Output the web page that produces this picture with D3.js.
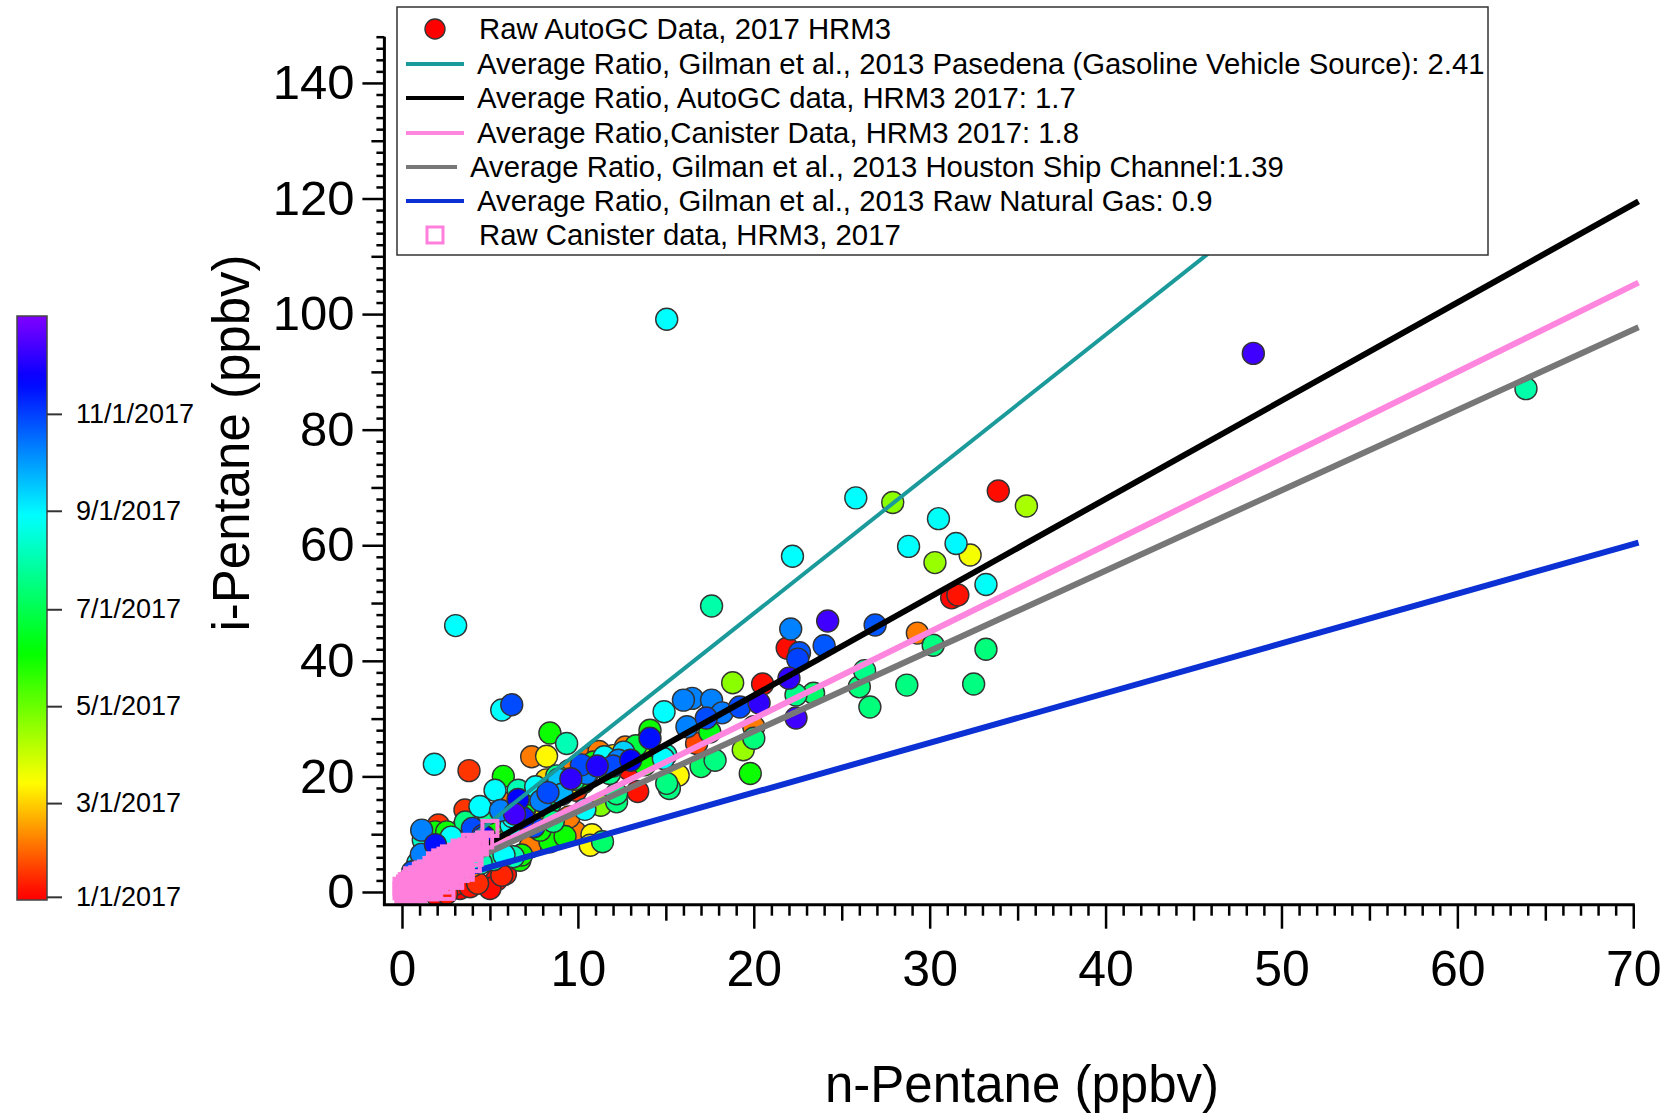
<!DOCTYPE html>
<html>
<head>
<meta charset="utf-8">
<script src="https://cdn.jsdelivr.net/npm/d3@7"></script>
<style>
body { margin: 0; background: #fff; }
text { font-family: "Liberation Sans", Arial, sans-serif; fill: #000; }
</style>
</head>
<body>
<script>
// AutoGC points: n-pentane, i-pentane (ppbv) and day of 2017 (0 = Jan 1)
var gcX = [15.05, 25.8, 27.9, 33.9, 35.5, 30.5, 28.8, 31.5, 32.3, 30.3, 22.2, 33.2, 31.25, 31.6, 17.6, 26.9, 24.2, 22.1, 24.0, 21.9,
    22.6, 22.5, 29.3, 30.2, 33.2, 28.7, 32.5, 26.0, 26.6, 26.3, 22.4, 22.0, 20.5, 20.3, 18.8, 16.5, 17.6, 14.9, 23.4, 22.4,
    14.1, 14.1, 12.7, 17.5, 19.4, 17.3, 16.2, 48.4, 63.9, 3.05, 6.24, 5.67, 1.84, 3.81, 8.41, 9.36, 7.37, 8.22, 5.76, 5.29,
    6.61, 3.58, 4.43, 1.12, 2.07, 1.88, 2.54, 1.21, 16.0, 20.0, 20.0, 16.75, 19.8, 17.0, 17.8, 15.0, 15.7, 15.2, 15.05, 12.2,
    13.4, 11.2, 10.6, 12.3, 12.0, 14.86, 13.5, 12.9, 13.8, 11.8, 10.5, 9.9, 7.5, 6.8, 8.9, 8.41, 9.27, 9.84, 10.8, 11.4,
    10.7, 7.85, 6.7, 7.28, 6.33, 6.8, 0.6, 0.9, 1.1, 1.3, 1.9, 2.3, 2.8, 3.2, 3.6, 4.0, 4.9, 5.6, 5.2, 6.0,
    6.6, 7.2, 7.6, 8.2, 8.8, 9.5, 10.2, 10.9, 11.5, 9.6, 8.6, 7.9, 7.0, 6.3, 5.5, 4.7, 3.9, 3.3, 2.7, 2.1,
    1.5, 1.2, 2.0, 2.7, 3.3, 4.0, 4.5, 5.2, 5.8, 7.5, 8.6, 9.5, 10.4, 11.3, 12.2, 5.38, 5.0, 3.3, 3.87, 2.54,
    1.97, 5.67, 5.88, 4.3, 3.0, 1.5, 0.8, 18.2, 19.2, 13.0,
    0.4, 0.8, 1.0, 1.6, 2.2, 2.5, 3.0, 3.5, 4.2, 4.6, 5.0, 5.4, 6.0, 6.4, 7.0, 7.7, 8.3, 9.0, 9.8, 10.6,
    11.1, 12.0, 12.6, 13.3, 14.0, 4.1, 4.8, 5.5, 6.2, 6.9, 7.6, 8.4, 9.1, 9.9, 10.3, 3.6, 2.9, 2.4, 1.7, 0.7];
var gcY = [99.1, 68.2, 67.4, 69.4, 66.8, 64.6, 59.8, 60.3, 58.3, 57.0, 58.1, 53.2, 50.9, 51.4, 49.5, 46.2, 46.9, 45.5, 42.6, 42.2,
    41.4, 40.3, 44.8, 42.7, 42.0, 35.8, 36.0, 35.5, 32.0, 38.3, 30.1, 37.0, 36.0, 32.7, 36.2, 33.5, 33.2, 31.2, 34.4, 34.1,
    26.6, 28.0, 25.1, 27.7, 24.6, 30.1, 28.6, 93.2, 87.1, 46.1, 32.4, 31.5, 22.1, 21.0, 27.5, 25.7, 23.4, 23.5, 20.0, 17.6,
    17.6, 14.2, 14.8, 10.7, 11.6, 10.4, 10.4, 9.0, 33.2, 28.6, 26.6, 25.7, 20.5, 21.7, 22.8, 23.7, 20.2, 17.9, 18.8, 15.6,
    17.4, 24.3, 23.1, 22.8, 21.8, 23.1, 24.0, 21.2, 22.0, 20.5, 20.5, 18.5, 16.8, 15.2, 19.5, 8.7, 9.6, 10.4, 9.9, 8.7,
    8.1, 10.7, 5.5, 7.8, 6.1, 6.4, 3.5, 5.0, 6.5, 8.0, 8.2, 7.6, 9.5, 10.4, 12.1, 11.0, 13.6, 14.1, 12.0, 15.3,
    16.0, 16.6, 18.2, 19.4, 20.1, 21.0, 22.0, 22.5, 23.4, 19.6, 17.3, 15.8, 14.5, 13.0, 11.2, 9.5, 8.3, 7.0, 5.6, 4.4,
    3.2, 1.8, 2.6, 3.3, 3.9, 4.5, 5.0, 5.6, 6.4, 11.3, 12.2, 13.0, 14.3, 15.0, 17.0, 2.1, 0.6, 0.6, 0.9, -0.2,
    -0.5, 2.9, 3.1, 1.5, 1.3, 0.3, 0.2, 31.0, 32.0, 22.8,
    1.2, 2.2, 2.8, 4.0, 5.0, 5.6, 6.6, 7.4, 8.8, 9.8, 10.2, 11.5, 12.6, 13.5, 14.8, 16.0, 17.2, 18.2, 19.5, 20.8,
    21.8, 23.6, 24.2, 25.3, 26.4, 7.8, 8.9, 10.1, 11.6, 12.8, 13.9, 15.2, 16.9, 17.6, 18.9, 6.0, 4.6, 3.8, 2.8, 1.5];
var gcDay = [240, 240, 110, 3, 100, 238, 240, 242, 75, 105, 240, 238, 2, 5, 211, 296, 345, 282, 296, 3,
    296, 303, 35, 197, 195, 197, 197, 195, 195, 200, 345, 340, 4, 340, 110, 282, 282, 240, 190, 200,
    320, 150, 35, 160, 105, 300, 282, 345, 211, 240, 300, 240, 240, 15, 150, 215, 35, 70, 150, 240,
    215, 15, 240, 282, 15, 150, 150, 220, 282, 35, 195, 20, 150, 190, 197, 220, 70, 197, 197, 195,
    5, 35, 30, 282, 300, 240, 113, 5, 150, 200, 282, 70, 180, 90, 260, 150, 150, 35, 70, 190,
    70, 150, 150, 35, 215, 150, 300, 240, 282, 150, 320, 113, 240, 70, 197, 300, 200, 282, 150, 35,
    325, 113, 240, 60, 200, 35, 300, 150, 240, 340, 10, 282, 150, 240, 113, 325, 240, 150, 35, 300,
    200, 150, 240, 282, 150, 35, 215, 200, 240, 300, 200, 35, 240, 113, 197, 2, 3, 0, 5, 8,
    3, 10, 6, 12, 4, 2, 6, 285, 300, 325,
    310, 250, 160, 40, 330, 90, 270, 20, 180, 310, 130, 50, 225, 345, 165, 95, 300, 25, 205, 120,
    335, 60, 255, 175, 10, 290, 140, 45, 235, 315, 80, 190, 265, 15, 150, 205, 330, 100, 260, 30];

// Canister samples: n-pentane, i-pentane (ppbv)
var canX = [0.0, 0.2, 0.4, 0.3, 0.6, 0.8, 0.5, 1.0, 1.2, 1.0, 1.4, 1.6, 1.3, 1.8, 2.0, 1.7, 2.2, 2.4, 2.1, 2.6,
    2.8, 2.5, 3.0, 2.92, 3.2, 3.4, 3.0, 3.58, 3.8, 3.5, 4.0, 4.25, 4.1, 4.4, 5.0, 4.7, 0.1, 0.7, 1.5, 2.3,
    1.0, 1.8, 2.4, 3.0, 0.5, 1.2, 2.0, 2.7, 3.3, 1.6, 2.5, 0.2,
    0.3, 0.6, 0.9, 1.1, 1.4, 1.7, 1.9, 2.2, 2.5, 2.8, 3.1, 3.4, 3.7, 3.9, 4.2, 0.8, 1.3, 1.9, 2.6, 3.3,
    3.6, 4.0, 0.4, 0.9, 1.5, 2.1, 2.8, 3.4, 0.0, 0.6];
var canY = [0.2, 0.5, 0.8, 0.1, 1.2, 1.6, 0.4, 1.9, 2.3, 1.2, 2.6, 3.0, 1.8, 3.2, 3.7, 2.4, 4.1, 4.4, 3.1, 4.8,
    5.1, 3.6, 5.5, 5.8, 5.0, 6.3, 4.4, 4.1, 6.8, 5.4, 7.2, 8.4, 6.0, 7.8, 11.0, 9.0, -0.4, 0.6, 1.5, 2.8,
    0.2, 0.6, 1.2, 2.0, 2.2, 3.8, 5.2, 6.6, 7.6, 0.0, 0.1, 1.4,
    1.8, 2.8, 3.0, 3.6, 4.0, 4.6, 5.4, 5.9, 6.2, 6.0, 6.9, 7.2, 7.8, 8.6, 8.0, 0.9, 1.0, 1.9, 2.6, 3.2,
    3.4, 4.9, -0.6, -0.3, 0.5, 1.3, 2.4, 4.6, 1.0, 2.0];

// Ratio lines (slopes as drawn)
var ratioSlopes = [2.41, 1.7, 1.5, 1.39, 0.86];
var ratioColors = ["#1a9a9a", "#000000", "#ff86de", "#777777", "#0b30d4"];
var ratioLabels = [
    "Average Ratio, Gilman et al., 2013 Pasedena (Gasoline Vehicle Source): 2.41",
    "Average Ratio, AutoGC data, HRM3 2017: 1.7",
    "Average Ratio,Canister Data, HRM3 2017: 1.8",
    "Average Ratio, Gilman et al., 2013 Houston Ship Channel:1.39",
    "Average Ratio, Gilman et al., 2013 Raw Natural Gas: 0.9"
];
var pointLabel = "Raw AutoGC Data, 2017 HRM3";
var canisterLabel = "Raw Canister data, HRM3, 2017";

var xTicks = [0, 10, 20, 30, 40, 50, 60, 70];
var yTicks = [0, 20, 40, 60, 80, 100, 120, 140];

var w = 1665, h = 1114;
var svg = d3.select("body").append("svg")
    .attr("width", w)
    .attr("height", h);

var x = d3.scaleLinear().domain([-1, 70.4]).range([384.4, 1640.3]);
var y = d3.scaleLinear().domain([-2.2, 148]).range([904.7, 36.7]);

// colour by date (rainbow: red -> violet)
var hue = d3.scaleLinear()
    .domain([0, 72, 154, 240, 325, 365])
    .range([0, 60, 120, 180, 240, 270])
    .clamp(true);
function dayColor(d) {
    return d3.hsl(hue(d), 1, 0.5).toString();
}

var defs = svg.append("defs");
defs.append("clipPath").attr("id", "plotclip")
    .append("rect")
    .attr("x", x(-1)).attr("y", y(148))
    .attr("width", x(70.4) - x(-1)).attr("height", y(-2.2) - y(148));

var plot = svg.append("g").attr("clip-path", "url(#plotclip)");

// AutoGC points, drawn in date order
var pts = gcX.map(function (d, i) {
    return { x: d, y: gcY[i], day: gcDay[i] };
}).sort(function (a, b) { return a.day - b.day; });

plot.selectAll("circle.gc")
    .data(pts)
    .enter()
    .append("circle")
    .attr("class", "gc")
    .attr("cx", function (d) { return x(d.x); })
    .attr("cy", function (d) { return y(d.y); })
    .attr("r", 11)
    .attr("fill", function (d) { return dayColor(d.day); })
    .attr("stroke", "#333")
    .attr("stroke-width", 1.4);

// ratio lines
plot.selectAll("line.ratio")
    .data(ratioSlopes)
    .enter()
    .append("line")
    .attr("class", "ratio")
    .attr("x1", x(0))
    .attr("y1", y(0))
    .attr("x2", x(70.3))
    .attr("y2", function (d) { return y(d * 70.3); })
    .attr("stroke", function (d, i) { return ratioColors[i]; })
    .attr("stroke-width", function (d, i) { return i === 0 ? 4 : 6; });

// canister squares
var sq = 15;
plot.selectAll("rect.can")
    .data(canX)
    .enter()
    .append("rect")
    .attr("class", "can")
    .attr("x", function (d) { return x(d) - sq / 2; })
    .attr("y", function (d, i) { return y(canY[i]) - sq / 2; })
    .attr("width", sq)
    .attr("height", sq)
    .attr("fill", "none")
    .attr("stroke", "#ff80dc")
    .attr("stroke-width", 4);

// axes
function tickSet(axisFn, scale, values, size) {
    return axisFn(scale).tickValues(values).tickSize(size).tickFormat("");
}
var xMinor = d3.range(0, 71).filter(function (d) { return d % 5 !== 0; });
var xMid = d3.range(5, 70, 10);
var yMinor = d3.range(0, 149, 2).filter(function (d) { return d % 10 !== 0; });
var yMid = d3.range(10, 149, 20);

var xAxisY = y(-2.2);
var yAxisX = x(-1);

var gx = svg.append("g").attr("transform", "translate(0," + xAxisY + ")");
gx.append("g").call(tickSet(d3.axisBottom, x, xMinor, 11));
gx.append("g").call(tickSet(d3.axisBottom, x, xMid, 16));
gx.append("g").call(d3.axisBottom(x).tickValues(xTicks).tickSize(24).tickPadding(22));

var gy = svg.append("g").attr("transform", "translate(" + yAxisX + ",0)");
gy.append("g").call(tickSet(d3.axisLeft, y, yMinor, 8));
gy.append("g").call(tickSet(d3.axisLeft, y, yMid, 13));
gy.append("g").call(d3.axisLeft(y).tickValues(yTicks).tickSize(22).tickPadding(8));

svg.selectAll(".domain").remove();
svg.selectAll(".tick line").attr("stroke", "#000").attr("stroke-width", 2.5);
gx.selectAll(".tick text").attr("font-size", 50).style("font-family", "Liberation Sans, Arial");
gy.selectAll(".tick text").attr("font-size", 49).style("font-family", "Liberation Sans, Arial");

svg.append("line")
    .attr("x1", yAxisX - 1.5).attr("x2", x(70) + 1.5)
    .attr("y1", xAxisY).attr("y2", xAxisY)
    .attr("stroke", "#000").attr("stroke-width", 3);
svg.append("line")
    .attr("x1", yAxisX).attr("x2", yAxisX)
    .attr("y1", xAxisY).attr("y2", y(148))
    .attr("stroke", "#000").attr("stroke-width", 3);

svg.append("text")
    .attr("x", 1022).attr("y", 1102)
    .attr("text-anchor", "middle")
    .attr("font-size", 51)
    .text("n-Pentane (ppbv)");
svg.append("text")
    .attr("transform", "translate(249,443) rotate(-90)")
    .attr("text-anchor", "middle")
    .attr("font-size", 51)
    .text("i-Pentane (ppbv)");

// legend
var lg = svg.append("g");
lg.append("rect")
    .attr("x", 397).attr("y", 7)
    .attr("width", 1091).attr("height", 248)
    .attr("fill", "#fff")
    .attr("stroke", "#333").attr("stroke-width", 1.5);
var rowY = [29, 64, 98, 133, 167, 201, 235];
var lfs = 29.3;
lg.append("circle")
    .attr("cx", 435).attr("cy", rowY[0]).attr("r", 10)
    .attr("fill", "#ff0000").attr("stroke", "#333").attr("stroke-width", 1.4);
lg.append("text").attr("x", 479).attr("y", rowY[0] + 10).attr("font-size", lfs).text(pointLabel);
ratioLabels.forEach(function (t, i) {
    var ry = rowY[i + 1];
    var gray = i === 3;
    lg.append("line")
        .attr("x1", 406).attr("x2", gray ? 457 : 464)
        .attr("y1", ry).attr("y2", ry)
        .attr("stroke", ratioColors[i]).attr("stroke-width", 4);
    lg.append("text")
        .attr("x", gray ? 470 : 477).attr("y", ry + 10)
        .attr("font-size", lfs)
        .text(t);
});
lg.append("rect")
    .attr("x", 427).attr("y", rowY[6] - 8)
    .attr("width", 16).attr("height", 16)
    .attr("fill", "none").attr("stroke", "#ff80dc").attr("stroke-width", 3);
lg.append("text").attr("x", 479).attr("y", rowY[6] + 10).attr("font-size", lfs).text(canisterLabel);

// colour bar
var start = new Date(2017, 0, 1);
var cb = d3.scaleLinear().domain([-2, 365.6]).range([900, 316]);
var grad = defs.append("linearGradient").attr("id", "cbgrad")
    .attr("x1", 0).attr("y1", 1).attr("x2", 0).attr("y2", 0);
d3.range(0, 1.0001, 0.02).forEach(function (t) {
    var d = -2 + t * 367.6;
    grad.append("stop").attr("offset", t).attr("stop-color", dayColor(d));
});
svg.append("rect")
    .attr("x", 17).attr("y", 316)
    .attr("width", 30).attr("height", 584)
    .attr("fill", "url(#cbgrad)")
    .attr("stroke", "#444").attr("stroke-width", 1.5);
var months = d3.timeMonth.every(2).range(start, new Date(2017, 11, 31));
var monthDays = months.map(function (m) { return d3.timeDay.count(start, m); });
var fmt = d3.timeFormat("%-m/%-d/%Y");
var gcb = svg.append("g").attr("transform", "translate(47,0)")
    .call(d3.axisRight(cb).tickValues(monthDays).tickSize(15).tickPadding(14)
        .tickFormat(function (d, i) { return fmt(months[i]); }));
gcb.select(".domain").remove();
gcb.selectAll(".tick line").attr("stroke", "#333").attr("stroke-width", 2);
gcb.selectAll(".tick text").attr("font-size", 27).style("font-family", "Liberation Sans, Arial").attr("fill", "#222");
</script>
</body>
</html>
